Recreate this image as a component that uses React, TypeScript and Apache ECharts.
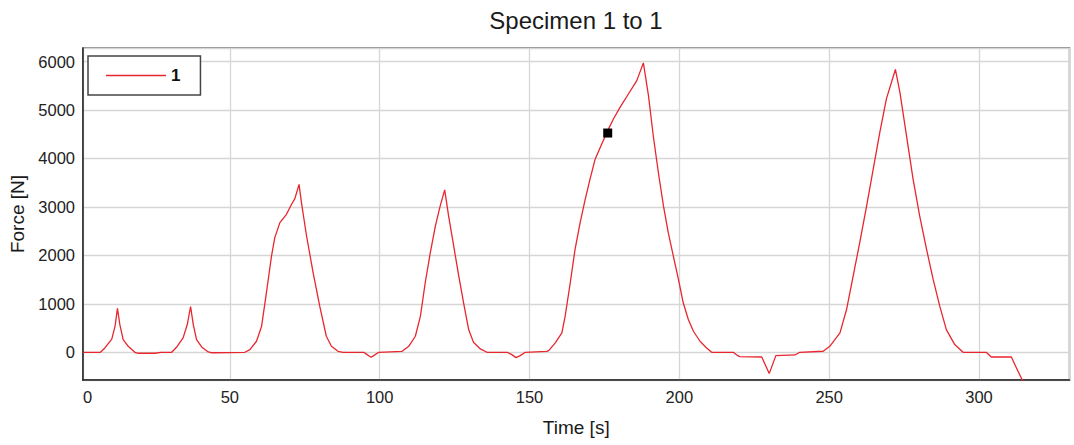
import React, { useEffect, useRef } from "react";
import * as echarts from "echarts";

const FONT = "'Liberation Sans', Arial, sans-serif";

const titleText = "Specimen 1 to 1";
const seriesName = "1";
const xAxisName = "Time [s]";
const yAxisName = "Force [N]";

const time: number[] = [
  1, 6.8, 8.3, 10.6, 11.7, 12.5, 13.3, 14.4, 16.1, 18.3, 19.5, 25, 27, 30.6,
  32.2, 34.4, 35.8, 36.9, 37.8, 38.9, 40.6, 42.8, 44, 55,
  56.7, 58.9, 60.6, 62.2, 63.9, 65, 66.7, 68.9, 70.6, 71.7, 73.1, 73.9, 75.6,
  77.8, 80, 82.2, 83.9, 86.1, 87.8, 94.7, 95.8, 97.1, 98, 99.7, 107.5,
  109.7, 111.9, 113.6, 115.2, 116.9, 118.6, 120.2, 121.7, 123, 124.7, 126.3,
  128, 129.7, 131.3, 133.6, 135.8, 142.5, 144.1, 145.5, 146.9, 148.6, 155.8,
  156.5, 158.6, 160.8, 161.9, 163.6, 165.2, 166.9, 168.6, 170.2, 171.9, 173.6,
  175.8, 178, 180.2, 183, 185.8, 188, 189.7, 191.3, 193, 194.7, 196.3, 198,
  199.7, 201.3, 203, 204.7, 206.9, 209.1, 210.8, 218, 219.5, 220.2, 227.5,
  230, 232.2, 238.6, 240.2, 248, 250.2, 253.6, 255.8, 258, 260.2, 262.5,
  264.7, 266.9, 269.1, 272.1, 273.6, 275.8, 278, 280.2, 282.5, 284.7, 286.9,
  289.1, 291.9, 294.7, 302.4, 304.1, 310.8, 312.5, 314.4, 316,
];

const force: number[] = [
  0, 0, 90, 270, 540, 905, 570, 262, 124, 0, -20, -20, 0, 0,
  103, 297, 572, 945, 572, 262, 110, 7, -10, 0,
  55, 228, 538, 1228, 1986, 2366, 2676, 2848, 3055, 3172, 3465, 3090, 2400,
  1641, 952, 331, 124, 21, 0, 0, -48, -103, -69, 0, 20,
  124, 331, 745, 1435, 2056, 2608, 3022, 3353, 2815, 2194, 1608,
  1021, 469, 207, 69, 0, 0, -48, -110, -69, 0, 20,
  40, 193, 400, 745, 1435, 2125, 2676, 3159, 3573, 3986, 4228,
  4538, 4814, 5056, 5331, 5607, 5973, 5297, 4469, 3711, 3021, 2469, 1986,
  1504, 1021, 676, 434, 228, 90, 0, 0, -70, -90, -97,
  -440, -69, -55, 0, 21, 124, 400, 883, 1573, 2263, 3022,
  3780, 4540, 5230, 5837, 5368, 4470, 3574, 2815, 2125, 1504, 952,
  469, 159, 0, 0, -97, -97, -324, -566, -720,
];

const markerTime = 176.1;
const markerForce = 4525;

const xMin = 1;
const xMax = 330.2;
const yMin = -572;
const yMax = 6280;

export default function App() {
  const ref = useRef<HTMLDivElement>(null);

  useEffect(() => {
    if (!ref.current) return;
    const chart = echarts.init(ref.current, null, { renderer: "svg" });
    const lineData = time.map((t, i) => [t, force[i]]);
    chart.setOption({
      animation: false,
      backgroundColor: "#ffffff",
      textStyle: { fontFamily: FONT },
      title: {
        text: titleText,
        left: 576,
        top: 8,
        padding: 0,
        textAlign: "center",
        textStyle: {
          fontFamily: FONT,
          fontSize: 24,
          fontWeight: "normal",
          color: "#1a1a1a",
        },
      },
      legend: {
        data: [{ name: seriesName, icon: "rect" }],
        left: 88,
        top: 56,
        orient: "vertical",
        padding: [10, 20, 10, 18],
        itemWidth: 60,
        itemHeight: 1.4,
        itemGap: 0,
        borderColor: "#444",
        borderWidth: 1.5,
        backgroundColor: "#ffffff",
        itemStyle: { color: "#e8262e", borderWidth: 0 },
        textStyle: {
          fontFamily: FONT,
          fontSize: 17,
          fontWeight: "bold",
          color: "#111",
          lineHeight: 19,
        },
      },
      grid: {
        left: 82,
        top: 48,
        right: 4.5,
        bottom: 65,
        show: true,
        borderColor: "#666",
        borderWidth: 1.5,
        backgroundColor: "#ffffff",
      },
      xAxis: {
        type: "value",
        min: xMin,
        max: xMax,
        name: xAxisName,
        nameLocation: "middle",
        nameGap: 38,
        nameTextStyle: { fontFamily: FONT, fontSize: 19, color: "#1a1a1a" },
        axisLine: { show: true, onZero: false, lineStyle: { color: "#222", width: 1.5 } },
        axisTick: { show: false },
        axisLabel: {
          margin: 8,
          fontFamily: FONT,
          fontSize: 16.5,
          color: "#222",
          showMaxLabel: false,
          alignMinLabel: "left",
          formatter: (v: number) =>
            Math.abs(v % 50) < 1e-6 ? String(v) : v === xMin ? "0" : "",
        },
        splitLine: { show: true, lineStyle: { color: "#d6d6d6", width: 1.3 } },
      },
      yAxis: {
        type: "value",
        min: yMin,
        max: yMax,
        name: yAxisName,
        nameLocation: "middle",
        nameGap: 56,
        nameTextStyle: { fontFamily: FONT, fontSize: 19, color: "#1a1a1a" },
        axisLine: { show: true, onZero: false, lineStyle: { color: "#222", width: 1.5 } },
        axisTick: { show: false },
        axisLabel: {
          margin: 8,
          fontFamily: FONT,
          fontSize: 16.5,
          color: "#222",
          formatter: (v: number) => (Math.abs(v % 1000) < 1e-6 ? String(v) : ""),
        },
        splitLine: { show: true, lineStyle: { color: "#d6d6d6", width: 1.3 } },
      },
      series: [
        {
          name: seriesName,
          type: "line",
          data: lineData,
          symbol: "none",
          clip: true,
          lineStyle: { color: "#e8262e", width: 1.3 },
          itemStyle: { color: "#e8262e" },
        },
        {
          name: "marker",
          type: "scatter",
          data: [[markerTime, markerForce]],
          symbol: "rect",
          symbolSize: 9,
          itemStyle: { color: "#000000", opacity: 1 },
          z: 5,
        },
      ],
    });
    return () => chart.dispose();
  }, []);

  return (
    <div
      ref={ref}
      style={{ position: "fixed", left: 0, top: 0, width: 1074, height: 445 }}
    />
  );
}
